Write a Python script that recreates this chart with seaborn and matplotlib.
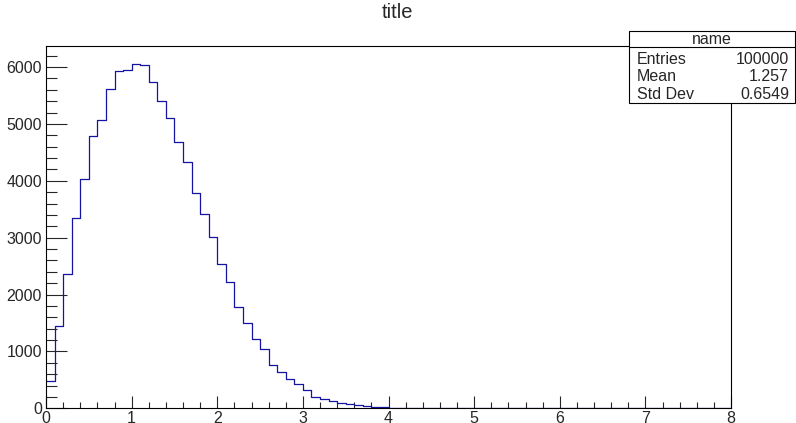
import numpy as np
import pandas as pd
import seaborn as sns
import matplotlib.pyplot as plt
from matplotlib.ticker import MultipleLocator

# 히스토그램 데이터 (bin 폭 0.1, 0 ~ 8)
bin_edges = [round(0.1 * i, 2) for i in range(81)]
counts = [485, 1447, 2361, 3340, 4026, 4787, 5063, 5619, 5935, 5953,
          6045, 6030, 5731, 5397, 5098, 4687, 4335, 3785, 3411, 3006,
          2532, 2215, 1781, 1505, 1224, 1043, 761, 633, 515, 422,
          316, 204, 158, 134, 93, 70, 53, 35, 23, 17,
          11, 7, 5, 0, 0, 2] + [0] * 34
stat_names = ["Entries", "Mean", "Std Dev"]
stat_values = ["100000", "1.257", "0.6549"]

df = pd.DataFrame({"x": np.array(bin_edges[:-1]) + 0.05, "n": counts})

sns.set_style("ticks")
plt.rcParams['font.family'] = ['Liberation Sans', 'DejaVu Sans']

fig = plt.figure(figsize=(7.96, 4.23), dpi=100)
ax = fig.add_axes([46 / 796, 1 - 408.3 / 423, (731 - 46) / 796, (408.3 - 46) / 423])

sns.histplot(data=df, x="x", weights="n", bins=bin_edges, element="step",
             fill=False, color="#1414a0", linewidth=0.9, ax=ax)

ax.set_xlim(0, 8)
ax.set_ylim(0, 6370)
ax.set_xlabel("")
ax.set_ylabel("")
ax.xaxis.set_major_locator(MultipleLocator(1))
ax.xaxis.set_minor_locator(MultipleLocator(0.2))
ax.yaxis.set_major_locator(MultipleLocator(1000))
ax.yaxis.set_minor_locator(MultipleLocator(200))
ax.tick_params(axis="x", which="major", direction="in", length=9, width=0.8, pad=2, labelsize=11.5)
ax.tick_params(axis="x", which="minor", direction="in", length=4.5, width=0.8)
ax.tick_params(axis="y", which="major", direction="in", length=15, width=0.8, pad=3, labelsize=11.5)
ax.tick_params(axis="y", which="minor", direction="in", length=8, width=0.8)
for s in ax.spines.values():
    s.set_linewidth(0.8)
    s.set_color("black")
    s.set_visible(True)

fig.text(0.5, 1 - 13 / 423, "title", ha="center", va="center", fontsize=14.5)

# 통계 박스
bx0, bx1 = 629 / 796, 795 / 796
by_top, by_mid, by_bot = 1 - 30.7 / 423, 1 - 46.7 / 423, 1 - 102.7 / 423
box = plt.Rectangle((bx0, by_bot), bx1 - bx0, by_top - by_bot, transform=fig.transFigure,
                    facecolor="white", edgecolor="black", linewidth=0.8, zorder=5)
fig.add_artist(box)
fig.add_artist(plt.Line2D([bx0, bx1], [by_mid, by_mid], transform=fig.transFigure,
                          color="black", linewidth=0.8, zorder=6))
fig.text(712 / 796, 1 - 40 / 423, "name", ha="center", va="center", fontsize=11.5, zorder=7)
for i, (nm, val) in enumerate(zip(stat_names, stat_values)):
    yy = 1 - (59.3 + 17.6 * i) / 423
    fig.text(637 / 796, yy, nm, ha="left", va="center", fontsize=11.5, zorder=7)
    fig.text(789 / 796, yy, val, ha="right", va="center", fontsize=11.5, zorder=7)

fig.savefig("out.png", dpi=100)
